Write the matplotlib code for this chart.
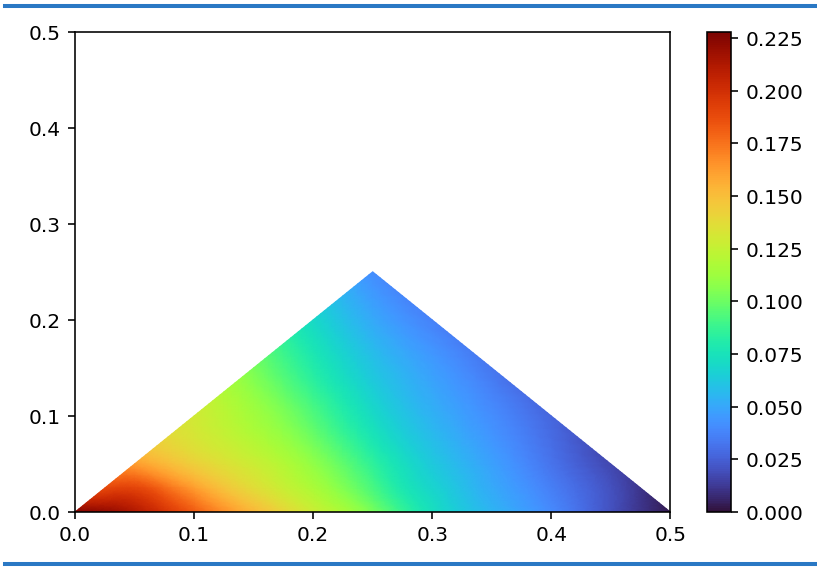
import numpy as np
import matplotlib
matplotlib.use("Agg")
import matplotlib.pyplot as plt
import matplotlib.tri as mtri
from matplotlib.lines import Line2D
from matplotlib.ticker import FormatStrFormatter

# Sample nodes of the triangular domain (rows of constant y) and the field value at each
row_y = [0.0, 0.025, 0.05, 0.10, 0.15, 0.20, 0.25]
row_x = [
    [0.00, 0.025, 0.05, 0.075, 0.10, 0.15, 0.20, 0.25, 0.30, 0.35, 0.40, 0.45, 0.50],
    [0.025, 0.05, 0.075, 0.10, 0.125, 0.15, 0.175, 0.20, 0.225, 0.25, 0.275,
     0.30, 0.325, 0.35, 0.375, 0.40, 0.425, 0.45, 0.475],
    [0.05, 0.10, 0.15, 0.20, 0.25, 0.30, 0.35, 0.40, 0.45],
    [0.10, 0.15, 0.20, 0.25, 0.30, 0.35, 0.40],
    [0.15, 0.20, 0.25, 0.30, 0.35],
    [0.20, 0.25, 0.30],
    [0.25],
]
row_val = [
    [0.226, 0.222, 0.212, 0.198, 0.182, 0.153, 0.128, 0.103, 0.073, 0.055, 0.040, 0.020, 0.003],
    [0.188, 0.190, 0.177, 0.162, 0.148, 0.137, 0.127, 0.117, 0.105, 0.092, 0.078,
     0.068, 0.059, 0.051, 0.044, 0.036, 0.028, 0.020, 0.011],
    [0.162, 0.143, 0.128, 0.109, 0.085, 0.063, 0.048, 0.032, 0.017],
    [0.130, 0.114, 0.094, 0.071, 0.054, 0.041, 0.027],
    [0.103, 0.081, 0.061, 0.047, 0.033],
    [0.070, 0.051, 0.037],
    [0.041],
]
vmin, vmax = 0.0, 0.228

x = np.concatenate([np.array(r, float) for r in row_x])
y = np.concatenate([np.full(len(r), yy) for r, yy in zip(row_x, row_y)])
z = np.concatenate([np.array(v, float) for v in row_val])

DPI = 145
fig = plt.figure(figsize=(817.4 / DPI, 567.4 / DPI), dpi=DPI)
ax = fig.add_axes([75 / 817, 55 / 567, 595 / 817, 480 / 567])
cax = fig.add_axes([707 / 817, 55 / 567, 24 / 817, 480 / 567])

tri = mtri.Triangulation(x, y)
interp = mtri.CubicTriInterpolator(tri, z, kind="min_E")
refiner = mtri.UniformTriRefiner(tri)
tri_f, z_f = refiner.refine_field(z, triinterpolator=interp, subdiv=4)

mesh = ax.tripcolor(tri_f, z_f, shading="gouraud", cmap="turbo",
                    vmin=vmin, vmax=vmax, rasterized=True)

ax.set_xlim(0, 0.5)
ax.set_ylim(0, 0.5)
ax.set_xticks([0.0, 0.1, 0.2, 0.3, 0.4, 0.5])
ax.set_yticks([0.0, 0.1, 0.2, 0.3, 0.4, 0.5])

cb = fig.colorbar(mesh, cax=cax)
cb.set_ticks([0.0, 0.025, 0.05, 0.075, 0.1, 0.125, 0.15, 0.175, 0.2, 0.225])
cb.ax.yaxis.set_major_formatter(FormatStrFormatter("%.3f"))

# Frame rules above and below the figure
blue = "#2a78c4"
fig.add_artist(Line2D([5 / 817, 1.0], [1 - 6.5 / 567] * 2, color=blue,
                      lw=2.0, transform=fig.transFigure))
fig.add_artist(Line2D([5 / 817, 1.0], [1 - 564.5 / 567] * 2, color=blue,
                      lw=2.0, transform=fig.transFigure))

fig.savefig("out.png", dpi=DPI)
